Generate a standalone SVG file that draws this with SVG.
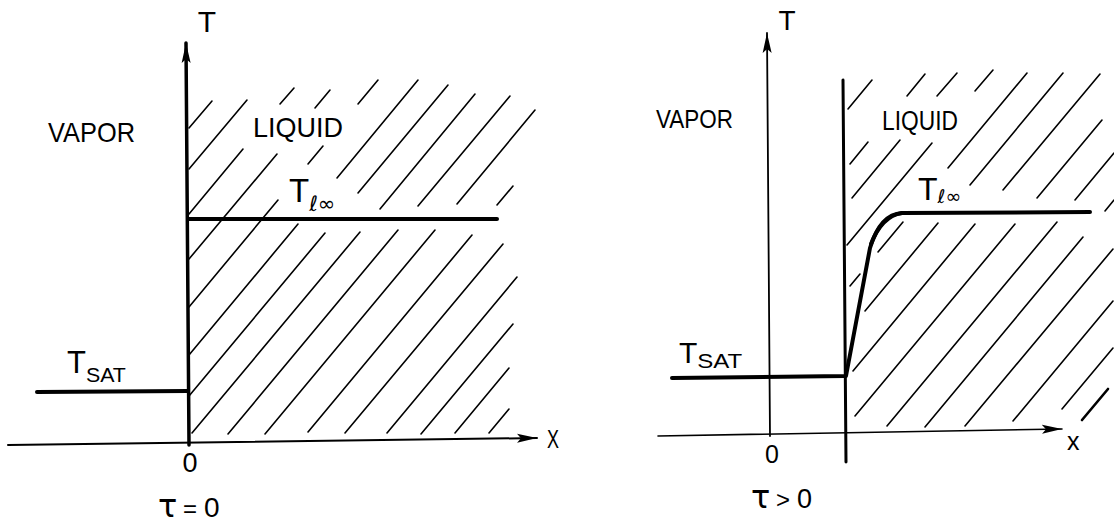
<svg xmlns="http://www.w3.org/2000/svg" width="1114" height="526" viewBox="0 0 1114 526">
<style>
.lbl{font-family:"Liberation Sans","DejaVu Sans",Arial,sans-serif;fill:#000}
.sym{font-family:"DejaVu Sans","Liberation Sans",sans-serif;fill:#000}
.hatch line{stroke:#000;stroke-width:1.6;stroke-linecap:round}
.axis{stroke:#000;fill:none;stroke-linecap:round}
.curve{stroke:#000;fill:none;stroke-width:4;stroke-linecap:round;stroke-linejoin:round}
</style>
<defs>
<marker id="arr" viewBox="0 0 20 10" refX="20" refY="5" markerWidth="20" markerHeight="10" markerUnits="userSpaceOnUse" orient="auto">
<path d="M0,0.5 L20,5 L0,9.5 L4,5 Z" fill="#000"/>
</marker>
</defs>
<rect width="1114" height="526" fill="#fff"/>

<!-- LEFT PANEL (tau = 0) -->
<g id="left-hatch" class="hatch">
<line x1="189" y1="128" x2="212" y2="101"/>
<line x1="189" y1="169" x2="247" y2="100"/>
<line x1="189" y1="214" x2="243" y2="149"/>
<line x1="280" y1="104" x2="294" y2="88"/>
<line x1="189" y1="259" x2="277" y2="154"/>
<line x1="315" y1="108" x2="330" y2="90"/>
<line x1="189" y1="307" x2="278" y2="200"/>
<line x1="308" y1="164" x2="323" y2="146"/>
<line x1="358" y1="104" x2="378" y2="80"/>
<line x1="189" y1="355" x2="298" y2="224"/>
<line x1="337" y1="178" x2="418" y2="80"/>
<line x1="189" y1="396" x2="325" y2="233"/>
<line x1="358" y1="193" x2="448" y2="85"/>
<line x1="192" y1="433" x2="360" y2="232"/>
<line x1="380" y1="209" x2="475" y2="94"/>
<line x1="228" y1="434" x2="398" y2="230"/>
<line x1="418" y1="206" x2="510" y2="96"/>
<line x1="265" y1="434" x2="435" y2="230"/>
<line x1="457" y1="204" x2="535" y2="110"/>
<line x1="308" y1="432" x2="472" y2="235"/>
<line x1="497" y1="205" x2="513" y2="186"/>
<line x1="345" y1="433" x2="503" y2="244"/>
<line x1="387" y1="433" x2="517" y2="277"/>
<line x1="421" y1="434" x2="513" y2="324"/>
<line x1="455" y1="433" x2="509" y2="368"/>
<line x1="489" y1="433" x2="509" y2="409"/>
</g>
<g id="left-axes">
<line class="axis" x1="8" y1="445" x2="537" y2="438" stroke-width="2" marker-end="url(#arr)"/>
<line class="axis" x1="189" y1="445" x2="186" y2="43" stroke-width="3.5" marker-end="url(#arr)"/>
</g>
<g id="left-profile">
<line class="curve" x1="37" y1="392" x2="188" y2="391"/>
<line class="curve" x1="188" y1="219" x2="497" y2="219"/>
</g>
<g id="left-labels">
<text class="lbl" x="207" y="32" font-size="30" text-anchor="middle">T</text>
<text class="lbl" x="48" y="142" font-size="28" textLength="87" lengthAdjust="spacingAndGlyphs">VAPOR</text>
<text class="lbl" x="253" y="137" font-size="28" textLength="90" lengthAdjust="spacingAndGlyphs">LIQUID</text>
<text class="lbl" x="289" y="202" font-size="33">T<tspan class="sym" font-size="21" dy="9">ℓ∞</tspan></text>
<text class="lbl" x="67" y="373" font-size="31">T<tspan font-size="21" dy="9" textLength="40" lengthAdjust="spacingAndGlyphs">SAT</tspan></text>
<text class="lbl" x="190" y="472" font-size="27" text-anchor="middle">0</text>
<text class="lbl" x="547" y="448" font-size="25" textLength="12" lengthAdjust="spacingAndGlyphs">X</text>
<text class="lbl" y="517" font-size="28"><tspan class="sym" x="158" font-size="32">τ</tspan><tspan x="183" font-size="24">=</tspan><tspan x="204">0</tspan></text>
</g>

<!-- RIGHT PANEL (tau > 0) -->
<g id="right-hatch" class="hatch">
<line x1="848" y1="109" x2="872" y2="80"/>
<line x1="850" y1="164" x2="868" y2="142"/>
<line x1="907" y1="96" x2="925" y2="74"/>
<line x1="852" y1="198" x2="900" y2="140"/>
<line x1="937" y1="96" x2="957" y2="73"/>
<line x1="847" y1="245" x2="932" y2="143"/>
<line x1="975" y1="91" x2="993" y2="70"/>
<line x1="850" y1="286" x2="860" y2="274"/>
<line x1="878" y1="252" x2="903" y2="222"/>
<line x1="948" y1="168" x2="1027" y2="73"/>
<line x1="865" y1="311" x2="938" y2="223"/>
<line x1="970" y1="185" x2="1063" y2="73"/>
<line x1="853" y1="371" x2="975" y2="224"/>
<line x1="1003" y1="190" x2="1100" y2="74"/>
<line x1="855" y1="416" x2="1015" y2="224"/>
<line x1="1037" y1="198" x2="1102" y2="120"/>
<line x1="887" y1="426" x2="1057" y2="222"/>
<line x1="1075" y1="200" x2="1114" y2="153"/>
<line x1="925" y1="427" x2="1083" y2="237"/>
<line x1="1105" y1="211" x2="1114" y2="200"/>
<line x1="965" y1="426" x2="1113" y2="249"/>
<line x1="1013" y1="421" x2="1113" y2="301"/>
<line x1="1062" y1="409" x2="1113" y2="348"/>
<line x1="1082" y1="420" x2="1108" y2="389" style="stroke-width:2.6"/>
</g>
<g id="right-axes">
<line class="axis" x1="658" y1="436" x2="1062" y2="429" stroke-width="1.6" marker-end="url(#arr)"/>
<line class="axis" x1="770" y1="436" x2="767" y2="33" stroke-width="1.8" marker-end="url(#arr)"/>
<line class="axis" x1="843" y1="80" x2="846" y2="462" stroke-width="3"/>
</g>
<g id="right-profile">
<path class="curve" d="M672,378 L845,376 M846,376 L870,248 C876,228 886,214 902,213 L1090,212"/>
<path class="curve" d="M871,244 C878,226 888,215 902,213" stroke-width="6"/>
</g>
<g id="right-labels">
<text class="lbl" x="787" y="30" font-size="28" text-anchor="middle">T</text>
<text class="lbl" x="656" y="128" font-size="25" textLength="77" lengthAdjust="spacingAndGlyphs">VAPOR</text>
<text class="lbl" x="882" y="130" font-size="27" textLength="76" lengthAdjust="spacingAndGlyphs">LIQUID</text>
<text class="lbl" x="918" y="200" font-size="32">T<tspan class="sym" font-size="19" dy="3">ℓ∞</tspan></text>
<text class="lbl" x="679" y="363" font-size="30">T<tspan font-size="21" dy="5" textLength="45" lengthAdjust="spacingAndGlyphs">SAT</tspan></text>
<text class="lbl" x="772" y="463" font-size="25" text-anchor="middle">0</text>
<text class="lbl" x="1067" y="450" font-size="25">x</text>
<text class="lbl" y="508" font-size="27"><tspan class="sym" x="751" font-size="32">τ</tspan><tspan x="776" font-size="24">&gt;</tspan><tspan x="797">0</tspan></text>
</g>
</svg>
